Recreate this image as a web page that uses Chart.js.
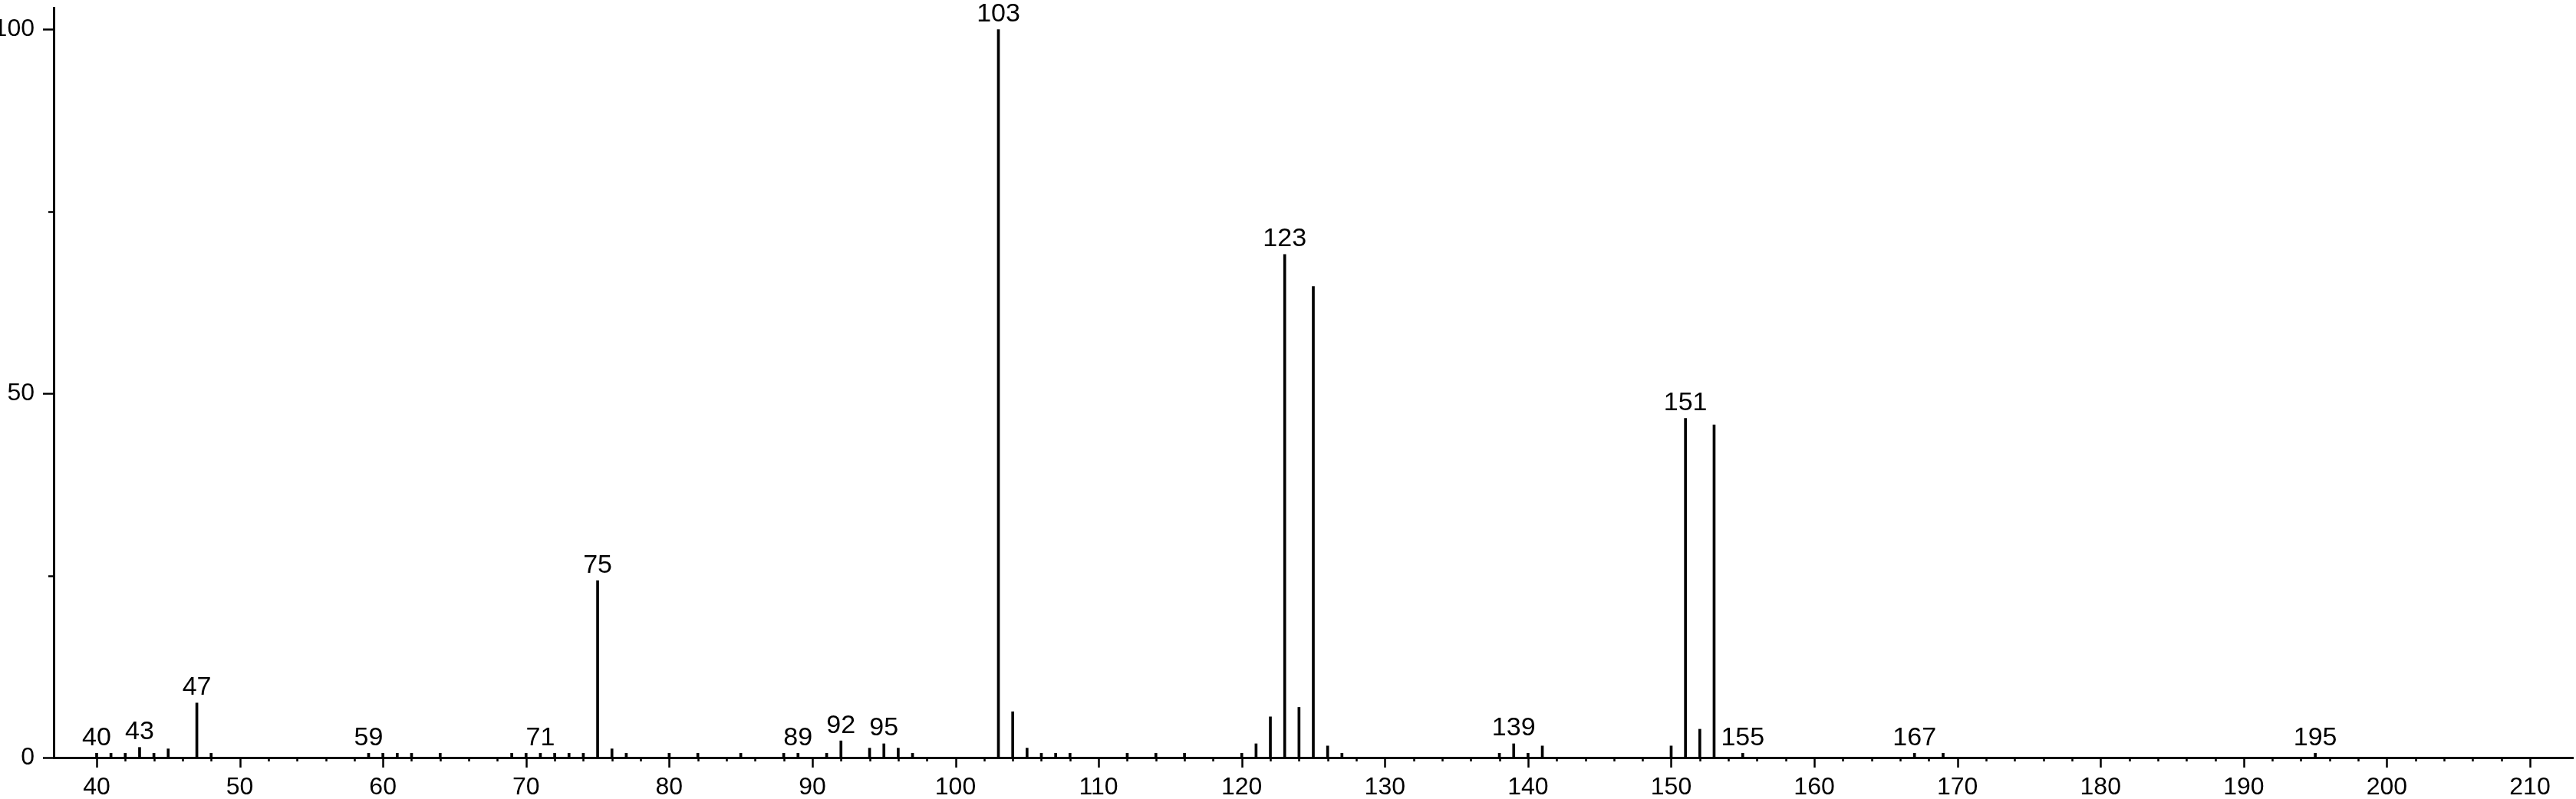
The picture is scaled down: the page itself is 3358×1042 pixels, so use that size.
<!DOCTYPE html>
<html>
<head>
<meta charset="utf-8">
<script src="https://cdn.jsdelivr.net/npm/chart.js@4.4.0/dist/chart.umd.min.js"></script>
<style>
    html, body { margin: 0; padding: 0; background: #fff; }
</style>
</head>
<body>
<canvas id="spectrum" width="3358" height="1042"></canvas>
<script>
// m/z values and relative intensities (%)
const masses = [
    40, 41, 42, 43, 44, 45, 47, 48,
    59, 60, 61, 62, 64, 69, 70, 71, 72, 73, 74, 75, 76, 77,
    80, 82, 85, 88, 89, 91, 92, 94, 95, 96, 97,
    103, 104, 105, 106, 107, 108, 112, 114, 116,
    120, 121, 122, 123, 124, 125, 126, 127,
    138, 139, 140, 141, 150, 151, 152, 153, 155,
    167, 169, 195
];
const intensities = [
    0.6, 0.6, 0.6, 1.4, 0.6, 1.2, 7.5, 0.6,
    0.6, 0.6, 0.6, 0.6, 0.6, 0.6, 0.6, 0.6, 0.6, 0.6, 0.6, 24.3, 1.2, 0.6,
    0.6, 0.6, 0.6, 0.6, 0.6, 0.6, 2.3, 1.3, 1.9, 1.3, 0.6,
    100, 6.3, 1.3, 0.6, 0.6, 0.6, 0.6, 0.6, 0.6,
    0.6, 1.9, 5.6, 69.1, 6.9, 64.7, 1.6, 0.6,
    0.6, 1.9, 0.6, 1.6, 1.6, 46.6, 3.9, 45.7, 0.6,
    0.6, 0.6, 0.6
];
const labeledMasses = [40, 43, 47, 59, 71, 75, 89, 92, 95, 103, 123, 139, 151, 155, 167, 195];

const xMajorTicks = [40, 50, 60, 70, 80, 90, 100, 110, 120, 130, 140, 150, 160, 170, 180, 190, 200, 210];
const xMinorStep = 2;
const yMajorTicks = [0, 50, 100];
const yMinorTicks = [25, 75];

const points = masses.map((m, i) => ({ x: m, y: intensities[i] }));
const fontFamily = '"Liberation Sans", Arial, sans-serif';

const tickMarks = {
    id: 'tickMarks',
    afterDraw(chart) {
        const { ctx, chartArea, scales } = chart;
        const xs = scales.x;
        const ys = scales.y;
        ctx.save();
        ctx.strokeStyle = '#000';
        ctx.lineWidth = 2.5;
        ctx.beginPath();
        for (let v = xMajorTicks[0]; v <= xMajorTicks[xMajorTicks.length - 1]; v += xMinorStep) {
            const px = Math.round(xs.getPixelForValue(v)) + 0.5;
            const len = xMajorTicks.includes(v) ? 13 : 5;
            ctx.moveTo(px, chartArea.bottom);
            ctx.lineTo(px, chartArea.bottom + len);
        }
        yMajorTicks.forEach((v) => {
            const py = Math.round(ys.getPixelForValue(v)) + 0.5;
            ctx.moveTo(chartArea.left, py);
            ctx.lineTo(chartArea.left - 14, py);
        });
        yMinorTicks.forEach((v) => {
            const py = Math.round(ys.getPixelForValue(v)) + 0.5;
            ctx.moveTo(chartArea.left, py);
            ctx.lineTo(chartArea.left - 7, py);
        });
        ctx.stroke();
        ctx.restore();
    }
};

const peakLabels = {
    id: 'peakLabels',
    afterDatasetsDraw(chart) {
        const { ctx } = chart;
        const meta = chart.getDatasetMeta(0);
        ctx.save();
        ctx.fillStyle = '#000';
        ctx.font = `34px ${fontFamily}`;
        ctx.textAlign = 'center';
        ctx.textBaseline = 'bottom';
        masses.forEach((m, i) => {
            if (!labeledMasses.includes(m)) return;
            const bar = meta.data[i];
            ctx.fillText(String(m), bar.x, bar.y - 3);
        });
        ctx.restore();
    }
};

new Chart(document.getElementById('spectrum'), {
    type: 'bar',
    data: {
        datasets: [{
            data: points,
            backgroundColor: '#000',
            borderWidth: 0,
            barThickness: 3
        }]
    },
    options: {
        responsive: false,
        animation: false,
        layout: { padding: { top: 10, right: 4, left: 0, bottom: 0 } },
        plugins: {
            legend: { display: false },
            tooltip: { enabled: false }
        },
        scales: {
            x: {
                type: 'linear',
                min: 37,
                max: 213,
                offset: false,
                grid: { display: false },
                border: { display: true, color: '#000', width: 3 },
                afterBuildTicks: (scale) => {
                    scale.ticks = xMajorTicks.map((v) => ({ value: v }));
                },
                afterFit: (scale) => {
                    scale.height = 54;
                    scale.paddingLeft = 0;
                    scale.paddingRight = 0;
                },
                ticks: {
                    autoSkip: false,
                    maxRotation: 0,
                    padding: 12,
                    color: '#000',
                    font: { family: fontFamily, size: 32 }
                }
            },
            y: {
                min: 0,
                max: 103,
                grid: { display: false },
                border: { display: true, color: '#000', width: 3 },
                afterBuildTicks: (scale) => {
                    scale.ticks = yMajorTicks.map((v) => ({ value: v }));
                },
                afterFit: (scale) => {
                    scale.width = 70;
                    scale.paddingTop = 0;
                    scale.paddingBottom = 0;
                },
                ticks: {
                    padding: 17,
                    color: '#000',
                    font: { family: fontFamily, size: 32 }
                }
            }
        }
    },
    plugins: [tickMarks, peakLabels]
});
</script>
</body>
</html>
